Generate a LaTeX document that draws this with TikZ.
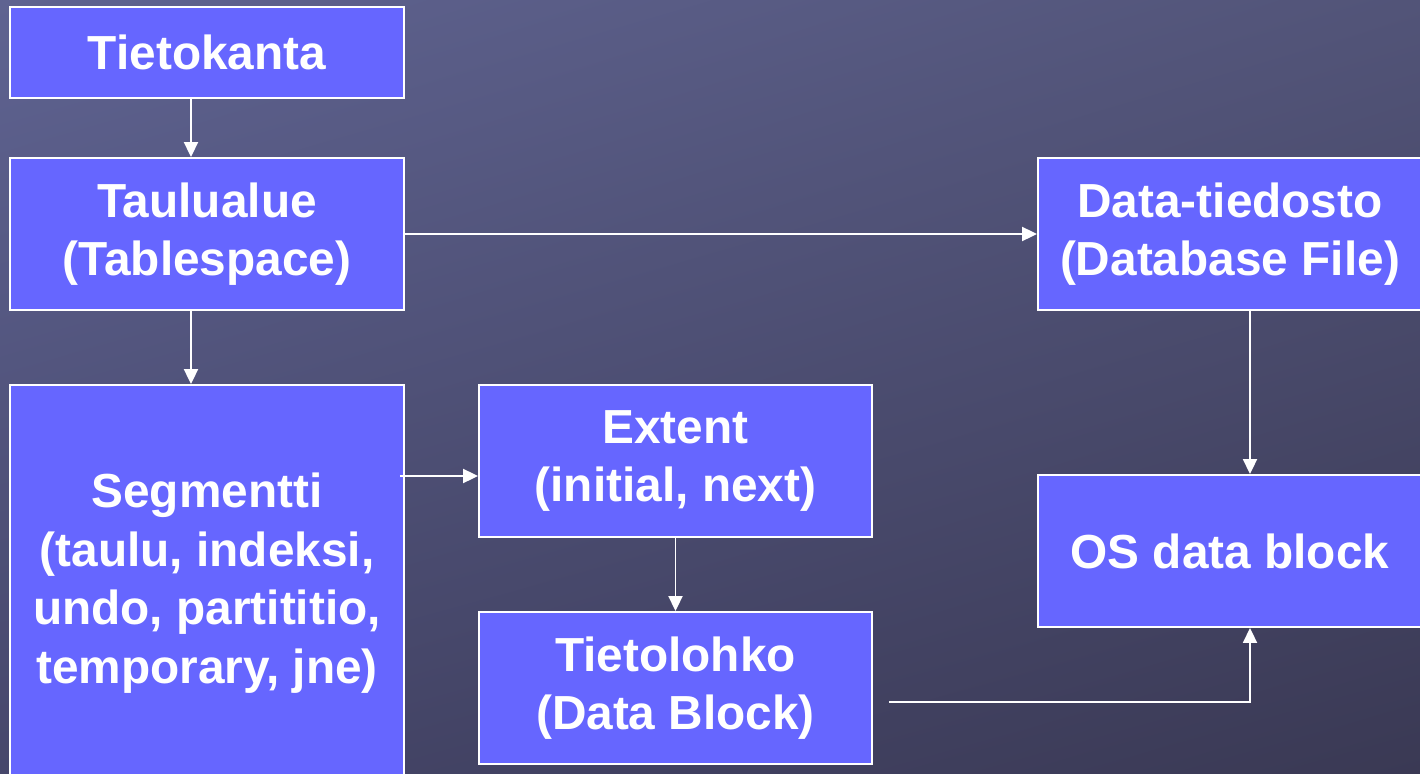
\documentclass[tikz,border=0pt]{standalone}
\usepackage{fontspec}
\setmainfont{Liberation Sans}
\usetikzlibrary{arrows.meta,shadings}
\definecolor{boxblue}{HTML}{6666FF}
\definecolor{bgul}{HTML}{5F6391}
\definecolor{bgur}{HTML}{525478}
\definecolor{bgll}{HTML}{46476B}
\definecolor{bglr}{HTML}{3A3954}
\tikzset{
  lohko/.style={draw=white,line width=1.1pt,fill=boxblue,text=white,
    font=\bfseries\fontsize{27.2}{33.4}\selectfont,align=center,inner sep=0pt},
  nuoli/.style={draw=white,line width=1.1pt,-{Triangle[length=0.3cm,width=0.28cm]}}
}
\begin{document}
\begin{tikzpicture}[x=0.02cm,y=-0.02cm]
\useasboundingbox (0,0) rectangle (1420,774);
\shade[upper left=bgul,upper right=bgur,lower left=bgll,lower right=bglr] (0,0) rectangle (1420,774);
\begin{scope}
\clip (0,0) rectangle (1420,774);
\node[lohko,minimum width=7.88cm,minimum height=1.82cm] (kanta) at (207,52.5) {Tietokanta};
\node[lohko,minimum width=7.88cm,minimum height=3.04cm] (alue) at (207,234) {Taulualue\\(Tablespace)};
\node[lohko,minimum width=7.88cm,minimum height=7.92cm] (segm) at (207,583) {Segmentti\\(taulu, indeksi,\\undo, partititio,\\temporary, jne)};
\node[lohko,minimum width=7.86cm,minimum height=3.04cm] (ext) at (675.5,461) {Extent\\(initial, next)};
\node[lohko,minimum width=7.86cm,minimum height=3.04cm] (tlohko) at (675.5,688) {Tietolohko\\(Data Block)};
\node[lohko,minimum width=7.68cm,minimum height=3.04cm] (dtied) at (1230,234) {Data-tiedosto\\(Database File)};
\node[lohko,minimum width=7.68cm,minimum height=3.04cm] (osb) at (1230,551) {OS data block};
\end{scope}
\coordinate (oikea) at (1250,0);
\coordinate (vasen) at (191,0);
% yhteydet
\draw[nuoli] (kanta.south -| vasen) -- (alue.north -| vasen);
\draw[nuoli] (alue.south -| vasen) -- (segm.north -| vasen);
\draw[nuoli] (alue.east) -- (dtied.west);
\draw[nuoli] ([xshift=-0.1cm,yshift=-0.3cm]segm.east |- ext.west) -- ([yshift=-0.3cm]ext.west);
\draw[nuoli] (ext.south) -- (tlohko.north);
\draw[nuoli] (dtied.south -| oikea) -- (osb.north -| oikea);
\draw[nuoli] ([xshift=0.32cm,yshift=-0.28cm]tlohko.east) -| (osb.south -| oikea);
\end{tikzpicture}
\end{document}
